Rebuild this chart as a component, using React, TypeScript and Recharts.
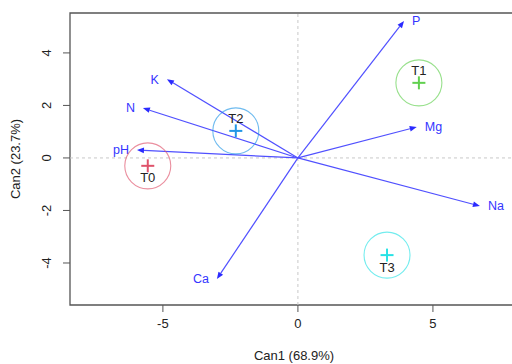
import {
  ScatterChart,
  Scatter,
  XAxis,
  YAxis,
  ReferenceLine,
  ReferenceArea,
} from 'recharts'

// variable vectors (structure coefficients, scaled)
const vectorNames = ['pH', 'N', 'K', 'P', 'Ca', 'Mg', 'Na']
const vectorX = [-5.96, -5.74, -4.85, 3.93, -3.0, 4.4, 6.74]
const vectorY = [0.3, 1.9, 3.0, 5.22, -4.61, 1.18, -1.83]

// group means on the canonical axes
const groupNames = ['T0', 'T1', 'T2', 'T3']
const groupX = [-5.56, 4.48, -2.3, 3.3]
const groupY = [-0.3, 2.86, 1.03, -3.7]

const xTicks = [-5, 0, 5]
const yTicks = [-4, -2, 0, 2, 4]

const groupColors = ['#DF536B', '#61D04F', '#2297E6', '#28E2E5']
const FONT = '"Liberation Sans", Arial, sans-serif'
const X_DOMAIN = [-8.44, 8.15]
const Y_DOMAIN = [-5.6, 5.52]

const groups = groupNames.map((name, i) => ({
  name,
  x: groupX[i],
  y: groupY[i],
  color: groupColors[i],
}))

function Arrow(props: any, name: string, right: boolean) {
  const { x1, y1, x2, y2 } = props
  const ang = Math.atan2(y2 - y1, x2 - x1)
  const len = 7
  const w = 2.8
  const bx = x2 - len * Math.cos(ang)
  const by = y2 - len * Math.sin(ang)
  const px = -Math.sin(ang) * w
  const py = Math.cos(ang) * w
  return (
    <g>
      <line x1={x1} y1={y1} x2={bx} y2={by} stroke="#5050ff" strokeWidth={1.2} />
      <polygon
        points={`${x2},${y2} ${bx + px},${by + py} ${bx - px},${by - py}`}
        fill="#2b2bff"
      />
      <text
        x={right ? x2 + 8 : x2 - 8}
        y={y2}
        dy="0.35em"
        textAnchor={right ? 'start' : 'end'}
        fill="#3535ff"
        fontSize={12.5}
        fontFamily={FONT}
      >
        {name}
      </text>
    </g>
  )
}

function GroupShape(props: any) {
  const { cx, cy, payload } = props
  const above = payload.y > 0
  return (
    <g>
      <circle cx={cx} cy={cy} r={23} fill="none" stroke={payload.color} strokeOpacity={0.65} strokeWidth={1.1} />
      <line x1={cx - 6.5} y1={cy} x2={cx + 6.5} y2={cy} stroke={payload.color} strokeWidth={2} />
      <line x1={cx} y1={cy - 6.5} x2={cx} y2={cy + 6.5} stroke={payload.color} strokeWidth={2} />
      <text
        x={cx}
        y={above ? cy - 12 : cy + 12}
        dy="0.35em"
        textAnchor="middle"
        fill="#222"
        fontSize={13}
        fontFamily={FONT}
      >
        {payload.name}
      </text>
    </g>
  )
}

function YTick(props: any) {
  const { y, payload } = props
  return (
    <g transform={`translate(46,${y}) rotate(-90)`}>
      <text textAnchor="middle" dy="0.35em" fill="#222" fontSize={13} fontFamily={FONT}>
        {payload.value}
      </text>
    </g>
  )
}

export default function App() {
  return (
    <div style={{ position: 'absolute', left: 0, top: 0, width: 512, height: 364, overflow: 'hidden', background: '#fff' }}>
      <ScatterChart width={530} height={364} margin={{ top: 13, right: 12, left: 0, bottom: 0 }}>
        <XAxis
          type="number"
          dataKey="x"
          domain={X_DOMAIN}
          ticks={xTicks}
          allowDataOverflow
          axisLine={false}
          tickSize={7}
          tickMargin={7}
          tickLine={{ stroke: '#555' }}
          tick={{ fill: '#222', fontSize: 13, fontFamily: FONT }}
          height={59}
          label={{
            content: ({ viewBox }: any) => (
              <text
                x={viewBox.x + viewBox.width / 2}
                y={355}
                dy="0.35em"
                textAnchor="middle"
                fill="#222"
                fontSize={13}
                fontFamily={FONT}
              >
                Can1 (68.9%)
              </text>
            ),
          }}
        />
        <YAxis
          type="number"
          dataKey="y"
          domain={Y_DOMAIN}
          ticks={yTicks}
          allowDataOverflow
          axisLine={false}
          tickSize={7}
          tickLine={{ stroke: '#555' }}
          tick={<YTick />}
          width={70}
          label={{
            content: ({ viewBox }: any) => (
              <g transform={`translate(15,${viewBox.y + viewBox.height / 2}) rotate(-90)`}>
                <text textAnchor="middle" dy="0.35em" fill="#222" fontSize={13} fontFamily={FONT}>
                  Can2 (23.7%)
                </text>
              </g>
            ),
          }}
        />
        <ReferenceLine x={0} stroke="#c8c8c8" strokeDasharray="3 3" />
        <ReferenceLine y={0} stroke="#c8c8c8" strokeDasharray="3 3" />
        <ReferenceArea
          x1={X_DOMAIN[0]}
          x2={X_DOMAIN[1]}
          y1={Y_DOMAIN[0]}
          y2={Y_DOMAIN[1]}
          fill="none"
          stroke="#555"
          strokeWidth={1.3}
          ifOverflow="visible"
        />
        {vectorNames.map((name, i) => (
          <ReferenceLine
            key={name}
            segment={[
              { x: 0, y: 0 },
              { x: vectorX[i], y: vectorY[i] },
            ]}
            ifOverflow="visible"
            shape={(p: any) => Arrow(p, name, vectorX[i] > 0)}
          />
        ))}
        <Scatter data={groups} shape={GroupShape} isAnimationActive={false} />
      </ScatterChart>
    </div>
  )
}
